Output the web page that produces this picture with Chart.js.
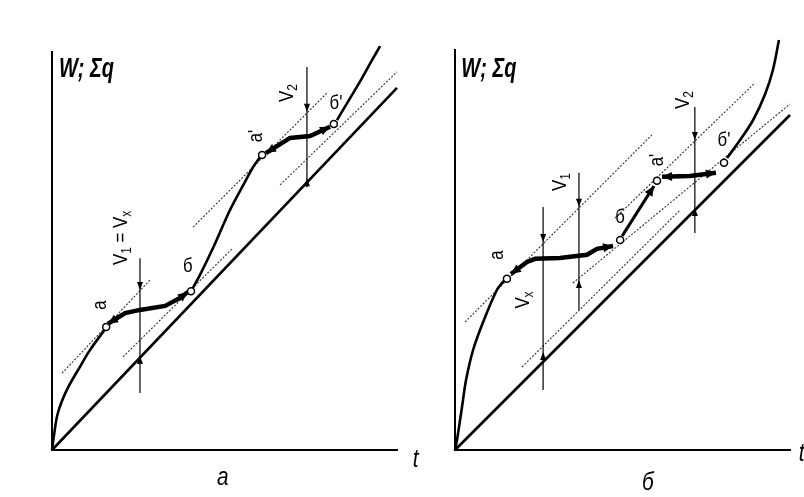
<!DOCTYPE html>
<html>
<head>
<meta charset="utf-8">
<script src="https://cdn.jsdelivr.net/npm/chart.js@4.4.1/dist/chart.umd.min.js"></script>
<style>
html, body { margin: 0; padding: 0; background: #fff; width: 804px; height: 497px; overflow: hidden; }
canvas { position: absolute; top: 0; }
#chartA { left: 0; }
#chartB { left: 403px; }
</style>
</head>
<body>
<canvas id="chartA" width="430" height="497" style="width:430px;height:497px"></canvas>
<canvas id="chartB" width="401" height="497" style="width:401px;height:497px"></canvas>
<script>
// ================= DATA (t ; W, Σq in relative units 0..100) =================

// --- panel а ---
const sumQA   = [[0, 0], [100, 91.0]];
const curveA1 = [[0, 0], [0.6, 3.8], [1.7, 9.3], [4.3, 15.1], [8.1, 20.9], [11.0, 25.1], [15.7, 30.7]];
const jumpA1  = [[16.2, 31.7], [21.2, 34.4], [25.5, 35.2], [32.8, 36.2], [37.1, 38.2], [39.4, 39.7]];
const curveA2 = [[40.3, 39.9], [42.9, 44.0], [46.7, 50.8], [51.6, 60.3], [55.9, 67.3], [58.3, 71.1], [60.3, 73.6]];
const jumpA2  = [[62.0, 74.6], [69.0, 78.4], [74.8, 78.9], [80.6, 81.2]];
const curveA3 = [[82.6, 82.9], [86.4, 88.4], [89.9, 93.5], [92.8, 98.0], [95.1, 101.5]];
const tanA1   = [[2.9, 19.3], [28.4, 42.7]];
const parA1   = [[20.6, 23.4], [52.5, 50.8]];
const tanA2   = [[40.9, 56.0], [79.7, 89.7]];
const parA2   = [[66.1, 66.6], [100, 95.0]];
const v1A     = [[25.5, 48.2], [25.5, 40.2], [25.5, 23.6], [25.5, 14.3]];
const v2A     = [[73.9, 96.2], [73.9, 85.0], [73.9, 68.3], [73.9, 66.0]];
const pointsA = [[15.7, 30.9], [40.3, 39.9], [60.9, 74.1], [81.7, 81.9]];

// --- panel б ---
const sumQB   = [[0, 0], [100, 83.75]];
const curveB1 = [[0, 0], [0.6, 2.5], [2.1, 10.8], [3.3, 17.5], [5.4, 25.0], [8.4, 32.0], [12.5, 40.0], [14.6, 42.3]];
const jumpB1  = [[16.7, 44.0], [21.5, 47.0], [23.9, 47.8], [31.3, 48.0], [39.4, 48.8], [42.4, 50.3], [47.2, 51.0]];
const jumpB2  = [[49.9, 53.5], [55.2, 60.5], [59.4, 66.0]];
const jumpB3  = [[61.8, 68.3], [70.1, 68.5], [77.9, 69.3]];
const curveB2 = [[81.2, 73.0], [85.1, 77.5], [89.0, 82.5], [92.5, 88.8], [94.9, 95.0], [96.7, 102.5]];
const tanB1   = [[3.0, 32.0], [58.8, 78.8]];
const tanB2   = [[47.8, 58.0], [89.6, 91.8]];
const parB1   = [[35.2, 41.75], [100, 86.5]];
const parB2   = [[20.0, 20.75], [67.2, 60.0]];
const v1B     = [[37.0, 69.3], [37.0, 60.8], [37.0, 42.5], [37.0, 35.0]];
const vxB     = [[26.3, 60.75], [26.3, 52.0], [26.3, 24.5], [26.3, 15.0]];
const v2B     = [[71.6, 85.75], [71.6, 77.5], [71.6, 60.5], [71.6, 54.25]];
const pointsB = [[15.5, 42.8], [49.3, 52.5], [60.3, 67.3], [80.3, 71.8]];

// --- labels ---
const labelsA = [
    { text: 'W; Σq', t: 2.0, W: 95.5, kind: 'title' },
    { text: 'а', t: 13.9, W: 36.4, rot: true },
    { text: 'б', t: 39.4, W: 46.2 },
    { text: "а'", t: 59.1, W: 78.9, rot: true },
    { text: "б'", t: 82.3, W: 87.2 },
    { text: 'V_1 = V_x', t: 20.0, W: 53.3, rot: true },
    { text: 'V_2', t: 68.1, W: 89.7, rot: true },
    { text: 't', t: 104.6, W: -2.5, kind: 'axis' },
    { text: 'а', t: 47.8, W: -7.0, kind: 'axis' }
];
const labelsB = [
    { text: 'W; Σq', t: 1.9, W: 95, kind: 'title' },
    { text: 'а', t: 12.5, W: 48.75, rot: true },
    { text: 'б', t: 49.3, W: 58.25 },
    { text: "а'", t: 60.3, W: 72.5, rot: true },
    { text: "б'", t: 80.3, W: 77.5 },
    { text: 'V_1', t: 31.3, W: 67, rot: true },
    { text: 'V_2', t: 68.1, W: 87.5, rot: true },
    { text: 'V_x', t: 20.3, W: 37.5, rot: true },
    { text: 't', t: 102.6, W: -1.0, kind: 'axis' },
    { text: 'б', t: 55.8, W: -8.25, kind: 'axis' }
];

// ================= HELPERS =================
const FONT = "'Liberation Sans', Arial, sans-serif";
const NARROW = 0.8; // arial narrow look

function pts(arr) {
    return arr.map(p => ({ x: p[0], y: p[1] }));
}

function solid(data, width, extra) {
    return Object.assign({
        data: pts(data),
        showLine: true,
        borderColor: '#000',
        borderWidth: width,
        pointRadius: 0,
        tension: 0,
        clip: false
    }, extra || {});
}

function dashed(data) {
    return solid(data, 1.1, { borderColor: '#333', borderDash: [2, 1.6] });
}

function circles(data) {
    return {
        data: pts(data),
        showLine: false,
        pointRadius: 3.5,
        pointBackgroundColor: '#fff',
        pointBorderColor: '#000',
        pointBorderWidth: 1.5,
        clip: false
    };
}

function arrowHead(ctx, from, tip, len, half) {
    const a = Math.atan2(tip.y - from.y, tip.x - from.x);
    const bx = tip.x - len * Math.cos(a);
    const by = tip.y - len * Math.sin(a);
    ctx.beginPath();
    ctx.moveTo(tip.x, tip.y);
    ctx.lineTo(bx + half * Math.sin(a), by - half * Math.cos(a));
    ctx.lineTo(bx - half * Math.sin(a), by + half * Math.cos(a));
    ctx.closePath();
    ctx.fill();
}

// text with "_x" subscripts, centred on 0,0
function drawRich(ctx, text, size, style, align) {
    const parts = [];
    for (let i = 0; i < text.length; i++) {
        if (text[i] === '_' && i + 1 < text.length) {
            parts.push({ s: text[i + 1], sub: true });
            i++;
        } else {
            parts.push({ s: text[i], sub: false });
        }
    }
    let w = 0;
    parts.forEach(p => {
        ctx.font = style + ' ' + (p.sub ? Math.round(size * 0.72) : size) + 'px ' + FONT;
        p.w = ctx.measureText(p.s).width;
        w += p.w;
    });
    let x = align === 'left' ? 0 : -w / 2;
    ctx.textAlign = 'left';
    parts.forEach(p => {
        ctx.font = style + ' ' + (p.sub ? Math.round(size * 0.72) : size) + 'px ' + FONT;
        ctx.fillText(p.s, x, p.sub ? size * 0.28 : 0);
        x += p.w;
    });
}

const marksPlugin = {
    id: 'marks',
    afterDatasetsDraw(chart) {
        const ctx = chart.ctx;
        ctx.save();
        ctx.fillStyle = '#000';
        chart.data.datasets.forEach((ds, i) => {
            if (!ds.arrows) return;
            const el = chart.getDatasetMeta(i).data;
            ds.arrows.forEach(a => arrowHead(ctx, el[a[1]], el[a[0]], ds.arrowLen || 8, ds.arrowHalf || 3));
        });
        ctx.restore();
    },
    afterDraw(chart, args, opts) {
        const ctx = chart.ctx;
        const xs = chart.scales.x, ys = chart.scales.y;
        ctx.save();
        ctx.fillStyle = '#000';
        ctx.textBaseline = 'middle';
        (opts.labels || []).forEach(l => {
            const x = xs.getPixelForValue(l.t);
            const y = ys.getPixelForValue(l.W);
            ctx.save();
            ctx.translate(x, y);
            if (l.kind === 'title') {
                ctx.scale(0.74, 1);
                drawRich(ctx, l.text, 27, 'italic bold', 'left');
            } else if (l.kind === 'axis') {
                ctx.scale(NARROW, 1);
                drawRich(ctx, l.text, 26, 'italic', 'left');
            } else {
                if (l.rot) ctx.rotate(-Math.PI / 2);
                ctx.scale(NARROW, 1);
                drawRich(ctx, l.text, 21, 'normal');
            }
            ctx.restore();
        });
        ctx.restore();
    }
};

function axisOpts(max) {
    return {
        type: 'linear',
        min: 0,
        max: max,
        grid: { display: false, drawTicks: false, tickLength: 0 },
        ticks: { display: false, padding: 0 },
        border: { display: true, color: '#000', width: 2 }
    };
}

function makeChart(id, datasets, labels, padding) {
    return new Chart(document.getElementById(id), {
        type: 'scatter',
        data: { datasets: datasets },
        options: {
            responsive: false,
            animation: false,
            events: [],
            layout: { padding: padding },
            scales: { x: axisOpts(100), y: axisOpts(100) },
            plugins: {
                legend: { display: false },
                tooltip: { enabled: false },
                marks: { labels: labels }
            }
        },
        plugins: [marksPlugin]
    });
}

// ================= CHARTS =================
const last = a => a.length - 1;
const bold = { arrowLen: 10, arrowHalf: 4.5 };

makeChart('chartA', [
    circles(pointsA),
    solid(jumpA1, 4.5, Object.assign({ arrows: [[0, 1], [last(jumpA1), last(jumpA1) - 1]] }, bold)),
    solid(jumpA2, 4.5, Object.assign({ arrows: [[0, 1], [last(jumpA2), last(jumpA2) - 1]] }, bold)),
    solid(curveA1, 2.6, { tension: 0.35 }),
    solid(curveA2, 2.6, { tension: 0.35 }),
    solid(curveA3, 2.6, { tension: 0.35 }),
    solid(sumQA, 2.6),
    solid(v1A, 1.2, { arrows: [[1, 0], [2, 3]] }),
    solid(v2A, 1.2, { arrows: [[1, 0], [2, 3]] }),
    dashed(tanA1),
    dashed(parA1),
    dashed(tanA2),
    dashed(parA2)
], labelsA, { left: 52, top: 52, right: 33, bottom: 47 });

makeChart('chartB', [
    circles(pointsB),
    solid(jumpB1, 4.5, Object.assign({ arrows: [[0, 1], [last(jumpB1), last(jumpB1) - 1]] }, bold)),
    solid(jumpB2, 3.2, Object.assign({ arrows: [[last(jumpB2), last(jumpB2) - 1]] }, bold)),
    solid(jumpB3, 4.5, Object.assign({ arrows: [[0, 1], [last(jumpB3), last(jumpB3) - 1]] }, bold)),
    solid(curveB1, 2.6, { tension: 0.35 }),
    solid(curveB2, 2.6, { tension: 0.35 }),
    solid(sumQB, 2.6),
    solid(v1B, 1.2, { arrows: [[1, 0], [2, 3]] }),
    solid(vxB, 1.2, { arrows: [[1, 0], [2, 3]] }),
    solid(v2B, 1.2, { arrows: [[1, 0], [2, 3]] }),
    dashed(tanB1),
    dashed(tanB2),
    dashed(parB1),
    dashed(parB2)
], labelsB, { left: 52, top: 50, right: 14, bottom: 47 });
</script>
</body>
</html>
